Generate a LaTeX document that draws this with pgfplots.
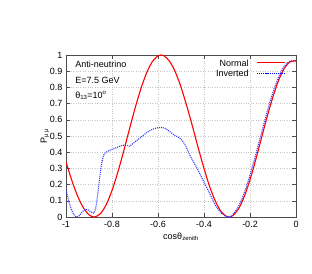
\documentclass[border=0pt]{standalone}
\usepackage{pgfplots}
\pgfplotsset{compat=1.18}
\usepackage{fontspec}
\setmainfont{Liberation Sans}
\begin{document}
\begin{tikzpicture}
\path[use as bounding box] (0,0) rectangle (312pt,273pt);
\begin{axis}[
  at={(66pt,56pt)}, anchor=south west,
  width=230pt, height=162pt, scale only axis,
  xmin=-1, xmax=0, ymin=0, ymax=1,
  xtick={-1,-0.8,-0.6,-0.4,-0.2,0},
  ytick={0,0.1,0.2,0.3,0.4,0.5,0.6,0.7,0.8,0.9,1},
  xticklabels={-1,-0.8,-0.6,-0.4,-0.2,0},
  yticklabels={0,0.1,0.2,0.3,0.4,0.5,0.6,0.7,0.8,0.9,1},
  tick align=inside, major tick length=4pt,
  tick style={black!70, line width=0.5pt},
  axis line style={black!70, line width=0.7pt},
  grid=major,
  major grid style={gray!45, dotted, line width=0.4pt},
  tick label style={font=\fontsize{9}{10}\selectfont},
  xticklabel style={yshift=-1pt},
  xlabel={cosθ\textsubscript{zenith}},
  ylabel={P\textsubscript{μ μ}},
  xlabel style={font=\fontsize{9}{10}\selectfont, yshift=2pt},
  ylabel style={font=\fontsize{9}{10}\selectfont, yshift=-6pt},
]
\addplot[red, line width=1.1pt, smooth] coordinates {
(-1,0.34) (-0.975,0.227) (-0.95,0.131) (-0.925,0.058) (-0.9,0.0135) (-0.877,0)
(-0.85,0.021) (-0.825,0.077) (-0.8,0.164) (-0.775,0.275) (-0.75,0.403) (-0.725,0.538)
(-0.7,0.670) (-0.675,0.789) (-0.65,0.888) (-0.625,0.9585) (-0.6,0.995) (-0.587,1.0)
(-0.575,0.996) (-0.55,0.962) (-0.525,0.896) (-0.5,0.802) (-0.475,0.686) (-0.45,0.559)
(-0.425,0.426) (-0.4,0.300) (-0.375,0.186) (-0.35,0.096) (-0.325,0.032) (-0.3,0.002)
(-0.291,0) (-0.275,0.008) (-0.25,0.050) (-0.225,0.126) (-0.2,0.230) (-0.175,0.354)
(-0.15,0.488) (-0.125,0.621) (-0.1,0.743) (-0.075,0.846) (-0.05,0.920) (-0.025,0.959) (0,0.963)
};
\addplot[blue!80!white, line width=1.1pt, dash pattern=on 1pt off 1pt, smooth] coordinates {
(-1,0.167) (-0.99,0.11) (-0.98,0.06) (-0.97,0.025) (-0.96,0.005) (-0.954,0.0)
(-0.945,0.005) (-0.935,0.02) (-0.925,0.038) (-0.915,0.047) (-0.905,0.045) (-0.895,0.035)
(-0.885,0.024) (-0.878,0.025) (-0.87,0.06) (-0.865,0.11) (-0.858,0.19) (-0.851,0.27)
(-0.845,0.33) (-0.838,0.375) (-0.83,0.395) (-0.82,0.405) (-0.81,0.412) (-0.79,0.422)
(-0.77,0.435) (-0.75,0.443) (-0.735,0.442) (-0.725,0.437) (-0.71,0.452) (-0.69,0.475)
(-0.67,0.497) (-0.65,0.52) (-0.63,0.537) (-0.61,0.548) (-0.59,0.553) (-0.57,0.548)
(-0.55,0.528) (-0.525,0.502) (-0.504,0.486) (-0.48,0.44) (-0.461,0.38) (-0.43,0.30)
(-0.40,0.215) (-0.37,0.13) (-0.35,0.072) (-0.33,0.032) (-0.31,0.008) (-0.297,0.0)
(-0.285,0.002) (-0.275,0.0147) (-0.25,0.0655) (-0.225,0.149) (-0.2,0.259) (-0.175,0.3855)
(-0.15,0.520) (-0.125,0.652) (-0.1,0.771) (-0.075,0.866) (-0.05,0.932) (-0.025,0.963) (0,0.965)
};
% legend keys
\node[anchor=east, inner sep=0pt, font=\fontsize{9}{10}\selectfont] at (rel axis cs:0.795,0.951) {Normal};
\draw[red, line width=1.1pt] (rel axis cs:0.830,0.951) -- (rel axis cs:0.952,0.951);
\node[anchor=east, inner sep=0pt, font=\fontsize{9}{10}\selectfont] at (rel axis cs:0.795,0.889) {Inverted};
\draw[blue, line width=1.2pt, dash pattern=on 1.2pt off 0.9pt] (rel axis cs:0.830,0.887) -- (rel axis cs:0.952,0.887);
\node[anchor=west, font=\fontsize{9}{10}\selectfont] at (axis cs:-0.975,0.944) {Anti-neutrino};
\node[anchor=west, font=\fontsize{9}{10}\selectfont] at (axis cs:-0.975,0.846) {E=7.5 GeV};
\node[anchor=west, font=\fontsize{9}{10}\selectfont] at (axis cs:-0.975,0.750) {θ\textsubscript{13}=10\textsuperscript{o}};
\end{axis}
\end{tikzpicture}
\end{document}
